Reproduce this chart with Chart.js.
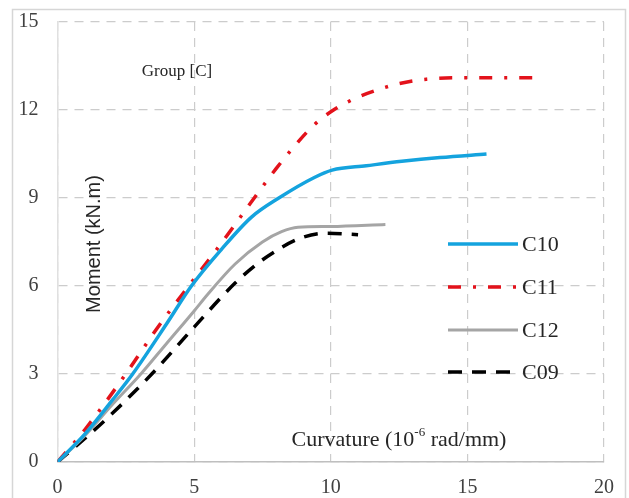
<!DOCTYPE html>
<html>
<head>
<meta charset="utf-8">
<title>Moment - Curvature, Group C</title>
<script src="https://cdn.jsdelivr.net/npm/chart.js@4.4.1/dist/chart.umd.min.js"></script>
<style>
    body { margin: 0; background: #fff; }
    canvas { display: block; }
</style>
</head>
<body>
<canvas id="momentChart" width="629" height="498"></canvas>
<script>
// ค่าที่อ่านจากกราฟ (curvature 10^-6 rad/mm, moment kN.m)
const seriesNames = ['C10', 'C11', 'C12', 'C09'];

const c10X = [0, 1, 2, 2.75, 4, 4.9, 6, 7.1, 8.1, 9.4, 10.05, 11.3, 12.6, 14, 15.7];
const c10Y = [0, 0.95, 2.1, 3, 4.72, 6, 7.25, 8.35, 9.0, 9.7, 9.95, 10.1, 10.25, 10.38, 10.5];

const c11X = [0, 1, 2.5, 3.6, 4.8, 5.75, 6.5, 7.2, 8.0, 8.7, 9.4, 10.1, 10.9, 11.6, 12.5, 13.5, 15, 17.8];
const c11Y = [0, 1.1, 3, 4.5, 6, 7.15, 8.1, 9.0, 10.0, 10.8, 11.5, 12.0, 12.4, 12.65, 12.9, 13.05, 13.1, 13.1];

const c12X = [0, 1, 2, 3.05, 4, 5, 5.5, 6.5, 7.5, 8.2, 8.8, 10, 12];
const c12Y = [0, 0.9, 1.95, 3, 4.05, 5.15, 5.72, 6.75, 7.5, 7.85, 8.0, 8.03, 8.1];

const c09X = [0, 1, 2, 3.45, 5, 6.5, 7.3, 8.0, 8.8, 9.8, 11];
const c09Y = [0, 0.8, 1.65, 3, 4.6, 6.1, 6.75, 7.2, 7.6, 7.8, 7.75];

const xTicks = [0, 5, 10, 15, 20];
const yTicks = [0, 3, 6, 9, 12, 15];

const toPoints = (xs, ys) => xs.map((x, i) => ({ x: x, y: ys[i] }));

const serif = '"Liberation Serif", "Times New Roman", serif';
const sans = '"Liberation Sans", Arial, sans-serif';

// กรอบรอบรูป
const framePlugin = {
    id: 'frame',
    beforeDraw: (chart) => {
        const ctx = chart.ctx;
        ctx.save();
        ctx.fillStyle = '#fff';
        ctx.fillRect(0, 0, chart.width, chart.height);
        ctx.strokeStyle = '#d6d6d6';
        ctx.lineWidth = 1.5;
        ctx.strokeRect(12.5, 9.5, 613, 500);
        ctx.restore();
    }
};

// ข้อความในกราฟ + legend
const labelPlugin = {
    id: 'labels',
    afterDatasetsDraw: (chart) => {
        const ctx = chart.ctx;
        ctx.save();
        ctx.fillStyle = '#262626';
        ctx.textBaseline = 'middle';

        ctx.font = '17px ' + serif;
        ctx.textAlign = 'center';
        ctx.fillText('Group [C]', 177, 72);

        // y title (rotated)
        ctx.save();
        ctx.translate(94, 244);
        ctx.rotate(-Math.PI / 2);
        ctx.font = '20px ' + sans;
        ctx.fillText('Moment (kN.m)', 0, 0);
        ctx.restore();

        // x title with superscript
        const partA = 'Curvature (10';
        const partB = '-6';
        const partC = ' rad/mm)';
        ctx.font = '22px ' + serif;
        const wA = ctx.measureText(partA).width;
        const wC = ctx.measureText(partC).width;
        ctx.font = '13px ' + serif;
        const wB = ctx.measureText(partB).width;
        const x = 399 - (wA + wB + wC) / 2;
        ctx.textAlign = 'left';
        ctx.font = '22px ' + serif;
        ctx.fillText(partA, x, 440);
        ctx.font = '13px ' + serif;
        ctx.fillText(partB, x + wA, 433);
        ctx.font = '22px ' + serif;
        ctx.fillText(partC, x + wA + wB, 440);

        // legend
        const rowY = [244, 287, 330, 372];
        chart.data.datasets.forEach((ds, i) => {
            ctx.save();
            ctx.strokeStyle = ds.borderColor;
            ctx.lineWidth = ds.borderWidth;
            ctx.setLineDash(ds.borderDash || []);
            ctx.beginPath();
            ctx.moveTo(448, rowY[i]);
            ctx.lineTo(518, rowY[i]);
            ctx.stroke();
            ctx.restore();
            ctx.font = '22px ' + serif;
            ctx.fillText(ds.label, 522, rowY[i] + 1);
        });
        ctx.restore();
    }
};

const renderChart = () => {
    const ctx = document.getElementById('momentChart').getContext('2d');
    // eslint-disable-next-line no-undef
    new Chart(ctx, {
        type: 'line',
        data: {
            datasets: [
                {
                    label: seriesNames[0],
                    data: toPoints(c10X, c10Y),
                    borderColor: '#14a3de',
                    borderWidth: 3.5,
                    borderDash: []
                },
                {
                    label: seriesNames[1],
                    data: toPoints(c11X, c11Y),
                    borderColor: '#e3121b',
                    borderWidth: 3.5,
                    borderDash: [13, 12, 3, 12]
                },
                {
                    label: seriesNames[2],
                    data: toPoints(c12X, c12Y),
                    borderColor: '#a5a5a5',
                    borderWidth: 3,
                    borderDash: []
                },
                {
                    label: seriesNames[3],
                    data: toPoints(c09X, c09Y),
                    borderColor: '#000000',
                    borderWidth: 3.5,
                    borderDash: [14, 10]
                }
            ]
        },
        options: {
            responsive: false,
            animation: false,
            layout: {
                padding: { left: 0, right: 25, top: 22, bottom: 0 }
            },
            elements: {
                point: { radius: 0 },
                line: { cubicInterpolationMode: 'monotone', fill: false }
            },
            plugins: {
                legend: { display: false },
                tooltip: { enabled: false }
            },
            scales: {
                x: {
                    type: 'linear',
                    min: xTicks[0],
                    max: xTicks[xTicks.length - 1],
                    afterFit: (scale) => { scale.height = 36; },
                    ticks: {
                        stepSize: xTicks[1] - xTicks[0],
                        color: '#404040',
                        font: { family: serif, size: 20 },
                        padding: 14
                    },
                    grid: { color: '#cccccc', lineWidth: 1.2, drawTicks: false },
                    border: { display: true, color: '#bfbfbf', width: 1.5, dash: [9, 7] }
                },
                y: {
                    min: yTicks[0],
                    max: yTicks[yTicks.length - 1],
                    afterFit: (scale) => {
                        scale.width = 57.5;
                        scale.paddingTop = 0;
                        scale.paddingBottom = 0;
                    },
                    ticks: {
                        stepSize: yTicks[1] - yTicks[0],
                        color: '#404040',
                        font: { family: serif, size: 20 },
                        padding: 19
                    },
                    grid: { color: '#cccccc', lineWidth: 1.2, drawTicks: false },
                    border: { display: true, color: '#e0e0e0', width: 1.5, dash: [9, 7] }
                }
            }
        },
        plugins: [framePlugin, labelPlugin]
    });
};

window.onload = renderChart;
</script>
</body>
</html>
